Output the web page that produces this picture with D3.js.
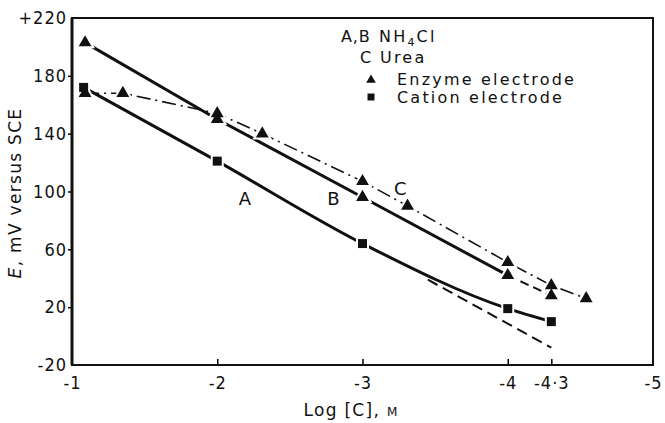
<!DOCTYPE html>
<html>
<head>
<meta charset="utf-8">
<script src="https://cdn.jsdelivr.net/npm/d3@7"></script>
<style>
  body { margin: 0; background: #fff; }
  svg { display: block; }
  .tick text { font-family: "DejaVu Sans Condensed", "DejaVu Sans", sans-serif; font-size: 18px; fill: #111; letter-spacing: 1px; }
  .lbl { font-family: "DejaVu Sans", sans-serif; fill: #111; }
</style>
</head>
<body>
<div id="chart"></div>
<script>
// log concentration / potential readings
var enzBX = [-1.09, -2, -3, -4, -4.3];
var enzBY = [203, 150, 96, 42, 28];
var enzCX = [-1.09, -1.35, -2, -2.31, -3, -3.31, -4, -4.3, -4.54];
var enzCY = [168, 168, 154, 140, 107, 90, 51, 35, 26];
var catX = [-1.08, -2, -3, -4, -4.3];
var catY = [172, 121, 64, 19, 10];
// straight extension of curve A
var extAX = [-3.45, -4.3];
var extAY = [39, -8];
var xTicks = [-1, -2, -3, -4, -4.3, -5];
var xTickLabels = ["-1", "-2", "-3", "-4", "-4·3", "-5"];
var yTicks = [220, 180, 140, 100, 60, 20, -20];
var yTickLabels = ["+220", "180", "140", "100", "60", "20", "-20"];

var svgWidth = 665, svgHeight = 423;
var margin = { top: 18, right: 12, bottom: 58, left: 72 };
var width = svgWidth - margin.left - margin.right;
var height = svgHeight - margin.top - margin.bottom;

var svg = d3.select("#chart").append("svg")
  .attr("width", svgWidth)
  .attr("height", svgHeight);

var g = svg.append("g")
  .attr("transform", `translate(${margin.left}, ${margin.top})`);

var x = d3.scaleLinear().domain([-1, -5]).range([0, width]);
var y = d3.scaleLinear().domain([-20, 220]).range([height, 0]);

function zip(xs, ys) {
  return xs.map((v, i) => [v, ys[i]]);
}

//axes
var xAxis = g.append("g")
  .attr("transform", `translate(0, ${height})`)
  .call(d3.axisBottom(x)
    .tickValues(xTicks)
    .tickSize(-6)
    .tickPadding(11)
    .tickFormat((d, i) => xTickLabels[i]));
xAxis.select(".domain").remove();
xAxis.selectAll(".tick line")
  .attr("stroke-width", 1.5)
  .attr("opacity", d => (d === -1 || d === -5) ? 0 : 1);

var yAxis = g.append("g")
  .call(d3.axisLeft(y)
    .tickValues(yTicks)
    .tickSize(4)
    .tickPadding(1)
    .tickFormat((d, i) => yTickLabels[i]));
yAxis.select(".domain").remove();
yAxis.selectAll(".tick line")
  .attr("stroke-width", 1.5)
  .attr("opacity", d => (d === 220 || d === -20) ? 0 : 1);

//frame
g.append("rect")
  .attr("width", width)
  .attr("height", height)
  .attr("fill", "none")
  .attr("stroke", "#111")
  .attr("stroke-width", 2);
g.append("line")
  .attr("y2", height)
  .attr("stroke", "#111")
  .attr("stroke-width", 3);

//curves
var line = d3.line().x(d => x(d[0])).y(d => y(d[1]));
var smooth = d3.line().x(d => x(d[0])).y(d => y(d[1])).curve(d3.curveMonotoneX);

var bPts = zip(enzBX, enzBY);
g.append("path").datum(bPts.slice(0, 4))
  .attr("d", line).attr("fill", "none")
  .attr("stroke", "#111").attr("stroke-width", 3);
g.append("path").datum(bPts.slice(3))
  .attr("d", line).attr("fill", "none")
  .attr("stroke", "#111").attr("stroke-width", 2)
  .attr("stroke-dasharray", "9,5");

g.append("path").datum(zip(enzCX, enzCY))
  .attr("d", line).attr("fill", "none")
  .attr("stroke", "#111").attr("stroke-width", 1.6)
  .attr("stroke-dasharray", "14,5,2,5");

g.append("path").datum(zip(catX, catY))
  .attr("d", smooth).attr("fill", "none")
  .attr("stroke", "#111").attr("stroke-width", 3);

g.append("path").datum(zip(extAX, extAY))
  .attr("d", line).attr("fill", "none")
  .attr("stroke", "#111").attr("stroke-width", 2)
  .attr("stroke-dasharray", "11,6");

//markers: white halos first so the curves break around every symbol
var tri = d3.symbol().type(d3.symbolTriangle).size(72);
var sq = d3.symbol().type(d3.symbolSquare).size(81);
var markers = zip(catX, catY).map(d => [d, sq])
  .concat(bPts.map(d => [d, tri]))
  .concat(zip(enzCX, enzCY).map(d => [d, tri]));

g.selectAll(".halo").data(markers).enter().append("path")
  .attr("class", "halo")
  .attr("d", d => d[1]())
  .attr("transform", d => `translate(${x(d[0][0])}, ${y(d[0][1])})`)
  .attr("fill", "#fff").attr("stroke", "#fff").attr("stroke-width", 4);
g.selectAll(".mark").data(markers).enter().append("path")
  .attr("class", "mark")
  .attr("d", d => d[1]())
  .attr("transform", d => `translate(${x(d[0][0])}, ${y(d[0][1])})`)
  .attr("fill", "#111");

//curve letters
var letters = [["A", -2.19, 91], ["B", -2.8, 91], ["C", -3.26, 97.5]];
g.selectAll(".curveLbl").data(letters).enter().append("text")
  .attr("class", "lbl")
  .attr("x", d => x(d[1]))
  .attr("y", d => y(d[2]))
  .attr("text-anchor", "middle")
  .attr("font-size", 18)
  .text(d => d[0]);

//legend
var leg = svg.append("g").attr("class", "lbl").attr("font-size", 16).attr("letter-spacing", 2.2);
leg.append("text").attr("x", 341).attr("y", 42).attr("letter-spacing", 0.8).text("A,B");
var t2 = leg.append("text").attr("x", 379).attr("y", 42);
t2.append("tspan").text("NH");
t2.append("tspan").attr("font-size", 11).attr("dy", 4).text("4");
t2.append("tspan").attr("dy", -4).text("Cl");
leg.append("text").attr("x", 360).attr("y", 63).text("C");
leg.append("text").attr("x", 380).attr("y", 63).text("Urea");
leg.append("path").attr("d", d3.symbol().type(d3.symbolTriangle).size(40))
  .attr("transform", "translate(371, 80)").attr("fill", "#111");
leg.append("text").attr("x", 397).attr("y", 85).text("Enzyme electrode");
leg.append("path").attr("d", d3.symbol().type(d3.symbolSquare).size(49))
  .attr("transform", "translate(371, 97)").attr("fill", "#111");
leg.append("text").attr("x", 397).attr("y", 103).text("Cation electrode");

//axis titles
var yt = svg.append("text")
  .attr("class", "lbl")
  .attr("transform", "translate(21, 193) rotate(-90)")
  .attr("text-anchor", "middle")
  .attr("font-size", 17)
  .attr("letter-spacing", 1.3);
yt.append("tspan").attr("font-style", "italic").text("E");
yt.append("tspan").text(", mV  versus  SCE");

var xt = svg.append("text")
  .attr("class", "lbl")
  .attr("x", 351)
  .attr("y", 416)
  .attr("text-anchor", "middle")
  .attr("font-size", 17)
  .attr("letter-spacing", 1.3);
xt.append("tspan").text("Log [C], ");
xt.append("tspan").attr("font-size", 12).text("M");
</script>
</body>
</html>
